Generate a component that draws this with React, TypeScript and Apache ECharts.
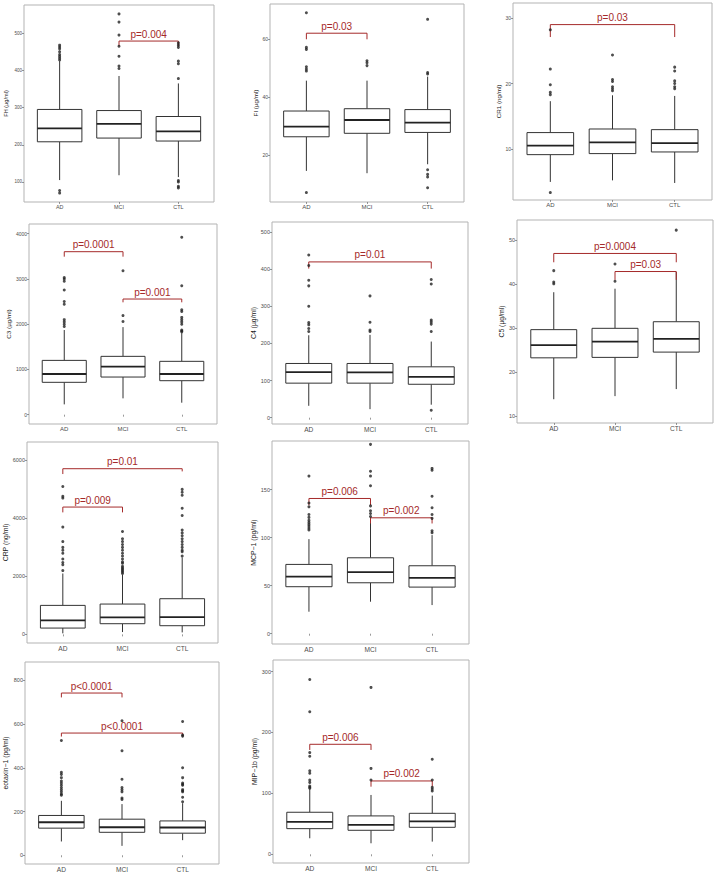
import React, { useEffect, useRef } from 'react';
import * as echarts from 'echarts';

const groups = ['AD', 'MCI', 'CTL'];

// Each stats row: [lower whisker, Q1, median, Q3, upper whisker] for AD, MCI, CTL
// Each bracket: [fromGroup, toGroup, top, legEndFrom, legEndTo]

const fhStats = [[105, 208, 244, 295, 425], [118, 218, 256, 292, 385], [113, 210, 236, 276, 365]];
const fhOutliers = [[428, 433, 438, 443, 450, 458, 463, 468, 70, 77], [405, 412, 438, 465, 495, 530, 552], [378, 418, 425, 462, 468, 474, 100, 104, 88, 84]];
const fhBrackets = [[1, 2, 479, 465, 465]];
const fhLabels = ['p=0.004'];
const fhTicks = [100, 200, 300, 400, 500];

const fiStats = [[14.5, 26.3, 29.8, 35.2, 45.7], [13.7, 27.5, 32.1, 36.0, 45.7], [16.8, 27.8, 31.2, 35.7, 47.1]];
const fiOutliers = [[49.0, 49.7, 50.5, 56.5, 57.2, 69.2, 7.0], [50.9, 51.9, 52.6], [48.0, 48.5, 66.9, 14.9, 13.3, 12.4, 8.7]];
const fiBrackets = [[0, 1, 62.1, 60.0, 60.0]];
const fiLabels = ['p=0.03'];
const fiTicks = [20, 40, 60];

const cr1Stats = [[4.96, 9.13, 10.5, 12.5, 17.3], [5.2, 9.29, 11.0, 13.05, 18.2], [4.8, 9.54, 10.9, 12.95, 18.1]];
const cr1Outliers = [[18.3, 18.65, 19.8, 22.2, 3.33, 28.2], [18.9, 19.2, 19.5, 20.3, 20.6, 24.35], [19.2, 19.5, 20.0, 20.4, 21.9, 22.5]];
const cr1Brackets = [[0, 2, 29.0, 27.1, 27.1]];
const cr1Labels = ['p=0.03'];
const cr1Ticks = [10, 20, 30];

const c3Stats = [[228, 715, 899, 1200, 1871], [361, 832, 1061, 1289, 1935], [265, 751, 899, 1179, 1800]];
const c3Outliers = [[1950, 2000, 2050, 2100, 2440, 2500, 2755, 2950, 3000, 3030], [2060, 2190, 3180], [1830, 1850, 1870, 2000, 2050, 2100, 2150, 2280, 2320, 2850, 3920]];
const c3Brackets = [[0, 1, 3602, 3492, 3492], [1, 2, 2556, 2483, 2483]];
const c3Labels = ['p=0.0001', 'p=0.001'];
const c3Ticks = [0, 1000, 2000, 3000, 4000];

const c4Stats = [[32, 93, 122.5, 146, 222], [23, 93, 122, 146, 223], [35, 90, 110, 137, 205]];
const c4Outliers = [[232, 240, 250, 256, 300, 355, 370, 410, 438], [232, 236, 257, 328], [232, 252, 258, 263, 360, 372, 20]];
const c4Brackets = [[0, 2, 419.5, 401.6, 401.6]];
const c4Labels = ['p=0.01'];
const c4Ticks = [0, 100, 200, 300, 400, 500];

const c5Stats = [[13.9, 23.3, 26.2, 29.7, 38.2], [14.6, 23.4, 27.0, 30.0, 39.0], [16.2, 24.6, 27.6, 31.5, 42.8]];
const c5Outliers = [[40.1, 40.5, 43.1], [40.7, 44.6], [52.3]];
const c5Brackets = [[0, 2, 47.0, 45.0, 45.0], [1, 2, 42.9, 41.0, 41.0]];
const c5Labels = ['p=0.0004', 'p=0.03'];
const c5Ticks = [10, 20, 30, 40, 50];

const crpStats = [[35, 218, 483, 1000, 2100], [80, 368, 586, 1046, 2050], [69, 299, 598, 1230, 2650]];
const crpOutliers = [
  [2200, 2400, 2480, 2600, 2800, 2900, 3000, 3200, 3700, 4700, 4760, 5100],
  [2100, 2150, 2200, 2250, 2300, 2350, 2450, 2500, 2600, 2700, 2800, 2900, 3000, 3100, 3200, 3300, 3550],
  [2700, 2850, 2900, 3000, 3100, 3200, 3300, 3400, 3500, 3600, 4100, 4350, 4800, 4900, 5000],
];
const crpBrackets = [[0, 2, 5713, 5529, 5620], [0, 1, 4391, 4207, 4207]];
const crpLabels = ['p=0.01', 'p=0.009'];
const crpTicks = [0, 2000, 4000, 6000];

const mcpStats = [[22.9, 48.9, 59.3, 72.1, 98.4], [33.3, 53, 64.1, 79, 118], [29.8, 48.5, 58.2, 70.7, 102.6]];
const mcpOutliers = [[108, 110, 112, 114, 116, 118, 121, 124, 132, 136, 164], [122, 125, 128, 133, 154, 164, 169, 197], [105, 107, 120, 124, 131, 143, 170, 172]];
const mcpBrackets = [[0, 1, 140.7, 133.7, 133.7], [1, 2, 120.6, 114.7, 114.7]];
const mcpLabels = ['p=0.006', 'p=0.002'];
const mcpTicks = [0, 50, 100, 150];

const eotStats = [[63, 124, 151, 182, 249], [43, 105, 128, 165, 234], [69, 101, 127, 157, 238]];
const eotOutliers = [
  [275, 280, 290, 300, 310, 320, 330, 340, 355, 370, 380, 525],
  [255, 262, 290, 300, 310, 348, 478, 615],
  [245, 265, 290, 295, 300, 320, 325, 330, 355, 400, 545, 550, 612],
];
const eotBrackets = [[0, 1, 742, 722, 722], [0, 2, 559, 543, 543]];
const eotLabels = ['p<0.0001', 'p<0.0001'];
const eotTicks = [0, 200, 400, 600, 800];

const mipStats = [[26.3, 42.1, 53.1, 69, 107], [18.1, 39.4, 48.2, 63, 97.4], [20.8, 44.3, 54.2, 67.3, 96.3]];
const mipOutliers = [[108.5, 110, 112, 118, 122, 133, 137, 161, 167, 234, 287], [122, 141, 274], [104, 107, 110, 122, 156]];
const mipBrackets = [[0, 1, 180.6, 171.3, 171.3], [1, 2, 120.4, 111, 111]];
const mipLabels = ['p=0.006', 'p=0.002'];
const mipTicks = [0, 100, 200, 300];

const panels = [
  { title: 'FH (µg/ml)', stats: fhStats, outliers: fhOutliers, brackets: fhBrackets, labels: fhLabels, ticks: fhTicks, yMin: 46, yMax: 576 },
  { title: 'FI (µg/ml)', stats: fiStats, outliers: fiOutliers, brackets: fiBrackets, labels: fiLabels, ticks: fiTicks, yMin: 3.75, yMax: 72.2 },
  { title: 'CR1 (ng/ml)', stats: cr1Stats, outliers: cr1Outliers, brackets: cr1Brackets, labels: cr1Labels, ticks: cr1Ticks, yMin: 2.2, yMax: 32.3 },
  { title: 'C3 (µg/ml)', stats: c3Stats, outliers: c3Outliers, brackets: c3Brackets, labels: c3Labels, ticks: c3Ticks, yMin: -206, yMax: 4214 },
  { title: 'C4 (µg/ml)', stats: c4Stats, outliers: c4Outliers, brackets: c4Brackets, labels: c4Labels, ticks: c4Ticks, yMin: -17, yMax: 527 },
  { title: 'C5 (µg/ml)', stats: c5Stats, outliers: c5Outliers, brackets: c5Brackets, labels: c5Labels, ticks: c5Ticks, yMin: 8.5, yMax: 54.6 },
  { title: 'CRP (ng/ml)', stats: crpStats, outliers: crpOutliers, brackets: crpBrackets, labels: crpLabels, ticks: crpTicks, yMin: -297, yMax: 6634 },
  { title: 'MCP−1 (pg/ml)', stats: mcpStats, outliers: mcpOutliers, brackets: mcpBrackets, labels: mcpLabels, ticks: mcpTicks, yMin: -10.7, yMax: 200.5 },
  { title: 'eotaxin−1 (pg/ml)', stats: eotStats, outliers: eotOutliers, brackets: eotBrackets, labels: eotLabels, ticks: eotTicks, yMin: -40, yMax: 884 },
  { title: 'MIP−1b (pg/ml)', stats: mipStats, outliers: mipOutliers, brackets: mipBrackets, labels: mipLabels, ticks: mipTicks, yMin: -14.3, yMax: 319 },
];

// layout of each panel's plotting box (pixels) and text sizing
const layouts = [
  { left: 24, top: 5, width: 190, height: 197, gap: 15, fs: 4.5 },
  { left: 270, top: 4, width: 194, height: 198, gap: 12, fs: 5 },
  { left: 513, top: 3, width: 199, height: 197, gap: 12, fs: 5 },
  { left: 29, top: 224, width: 188, height: 200, gap: 18, fs: 5 },
  { left: 272, top: 222, width: 196, height: 202, gap: 14, fs: 5.5 },
  { left: 517, top: 220, width: 196, height: 203, gap: 12, fs: 5.5 },
  { left: 27, top: 442, width: 191, height: 201, gap: 18, fs: 5.5 },
  { left: 272, top: 441, width: 197, height: 203, gap: 14, fs: 5.5 },
  { left: 25, top: 662, width: 194, height: 202, gap: 16, fs: 5.5 },
  { left: 273, top: 660, width: 196, height: 203, gap: 12, fs: 5.5 },
];

const FONT = '"Liberation Sans", Arial, sans-serif';
const RED = '#A52A2A';
const INK = '#333333';

function buildOption() {
  const grid: any[] = [];
  const xAxis: any[] = [];
  const yAxis: any[] = [];
  const series: any[] = [];

  panels.forEach((p, i) => {
    const l = layouts[i];
    grid.push({
      left: l.left, top: l.top, width: l.width, height: l.height,
      show: true, borderColor: '#b3b3b3', borderWidth: 1, backgroundColor: 'transparent',
    });
    xAxis.push({
      gridIndex: i, type: 'value', min: 0.4, max: 3.6,
      axisLine: { show: false }, splitLine: { show: false },
      axisTick: { show: true, length: 2, lineStyle: { color: '#555', width: 0.6 }, customValues: [1, 2, 3] },
      axisLabel: {
        customValues: [1, 2, 3], formatter: (v: number) => groups[Math.round(v) - 1] || '',
        fontSize: l.fs * 1.2, color: '#4d4d4d', margin: 2, fontFamily: FONT,
      },
    });
    yAxis.push({
      gridIndex: i, type: 'value', min: p.yMin, max: p.yMax,
      name: p.title, nameLocation: 'middle', nameGap: l.gap, nameRotate: 90,
      nameTextStyle: { fontSize: l.fs * 1.25, color: '#222', fontFamily: FONT },
      axisLine: { show: false }, splitLine: { show: false },
      axisTick: { show: true, length: 2, lineStyle: { color: '#555', width: 0.6 }, customValues: p.ticks },
      axisLabel: {
        customValues: p.ticks, formatter: (v: number) => String(v),
        fontSize: l.fs, color: '#4d4d4d', margin: 2, fontFamily: FONT,
      },
    });

    series.push({
      type: 'custom', xAxisIndex: i, yAxisIndex: i, clip: false,
      encode: { x: 0, y: [1, 2, 3, 4, 5] },
      data: p.stats.map((s, k) => [k + 1, ...s]),
      renderItem: (params: any, api: any) => {
        const x = api.value(0);
        const lo = api.coord([x, api.value(1)]);
        const q1 = api.coord([x, api.value(2)])[1];
        const md = api.coord([x, api.value(3)])[1];
        const q3 = api.coord([x, api.value(4)])[1];
        const hi = api.coord([x, api.value(5)])[1];
        const cx = lo[0];
        const hw = api.size([0.75, 0])[0] / 2;
        const st = { stroke: INK, lineWidth: 1 };
        return {
          type: 'group',
          children: [
            { type: 'line', shape: { x1: cx, y1: lo[1], x2: cx, y2: q1 }, style: st },
            { type: 'line', shape: { x1: cx, y1: q3, x2: cx, y2: hi }, style: st },
            { type: 'rect', shape: { x: cx - hw, y: q3, width: hw * 2, height: q1 - q3 }, style: { fill: '#fff', stroke: INK, lineWidth: 1 } },
            { type: 'line', shape: { x1: cx - hw, y1: md, x2: cx + hw, y2: md }, style: { stroke: '#222', lineWidth: 1.8 } },
          ],
        };
      },
    });

    const pts: number[][] = [];
    p.outliers.forEach((arr, k) => arr.forEach((v) => pts.push([k + 1, v])));
    series.push({
      type: 'scatter', xAxisIndex: i, yAxisIndex: i, data: pts,
      symbolSize: 3, itemStyle: { color: '#222' }, silent: true,
    });

    const labels = p.labels;
    series.push({
      type: 'custom', xAxisIndex: i, yAxisIndex: i, clip: false,
      encode: { x: [0, 1], y: [2, 3, 4] },
      data: p.brackets.map((b) => [b[0] + 1, b[1] + 1, b[2], b[3], b[4]]),
      renderItem: (params: any, api: any) => {
        const x1 = api.value(0), x2 = api.value(1);
        const a = api.coord([x1, api.value(3)]);
        const b = api.coord([x1, api.value(2)]);
        const c = api.coord([x2, api.value(2)]);
        const d = api.coord([x2, api.value(4)]);
        return {
          type: 'group',
          children: [
            { type: 'polyline', shape: { points: [a, b, c, d] }, style: { stroke: RED, lineWidth: 1, fill: null } },
            {
              type: 'text', x: (b[0] + c[0]) / 2, y: b[1] - 2,
              style: { text: labels[params.dataIndex], fill: RED, fontSize: 10, fontFamily: FONT, align: 'center', verticalAlign: 'bottom' },
            },
          ],
        };
      },
    });
  });

  return { animation: false, backgroundColor: '#fff', grid, xAxis, yAxis, series };
}

export default function App() {
  const ref = useRef<HTMLDivElement>(null);
  useEffect(() => {
    if (!ref.current) return;
    const chart = echarts.init(ref.current, null, { renderer: 'svg' });
    chart.setOption(buildOption() as any);
    return () => chart.dispose();
  }, []);
  return (
    <div
      ref={ref}
      style={{ position: 'absolute', left: 0, top: 0, width: 719, height: 875, background: '#fff' }}
    />
  );
}
